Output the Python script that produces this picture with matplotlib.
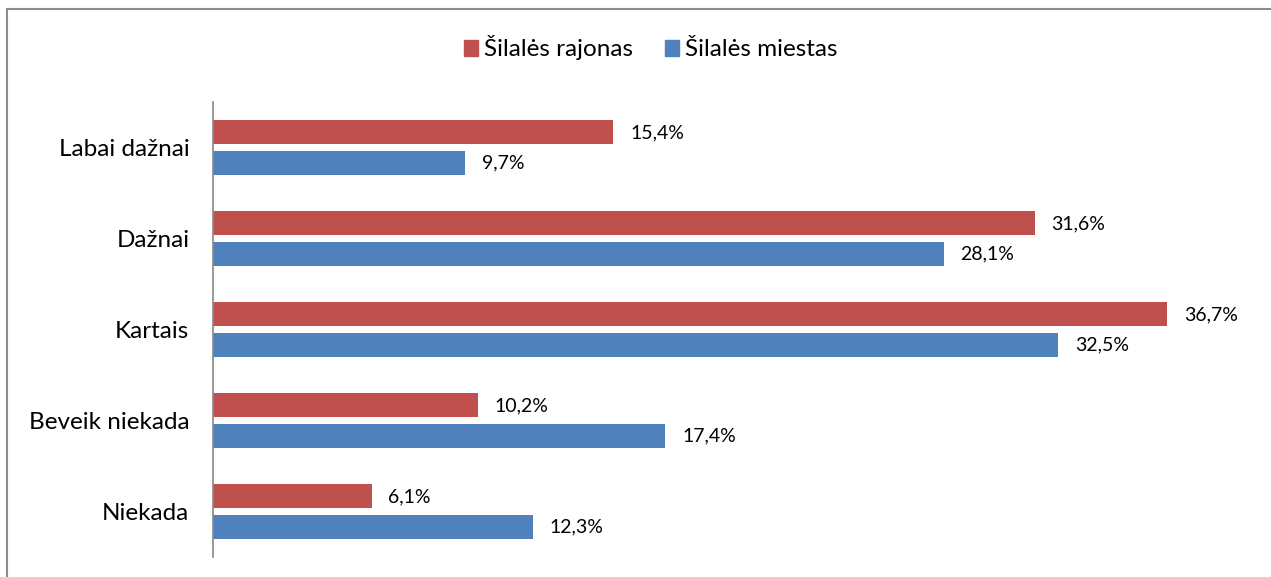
import matplotlib.pyplot as plt
import matplotlib.patches as mpatches
import numpy as np

categories = ["Labai dažnai", "Dažnai", "Kartais", "Beveik niekada", "Niekada"]
series_names = ["Šilalės rajonas", "Šilalės miestas"]
rajonas = [15.4, 31.6, 36.7, 10.2, 6.1]
miestas = [9.7, 28.1, 32.5, 17.4, 12.3]

red = "#C0504D"
blue = "#4F81BD"

plt.rcParams['font.family'] = ['Lato', 'DejaVu Sans']

fig = plt.figure(figsize=(12.71, 5.77), dpi=100)
ax = fig.add_axes([213 / 1271, 1 - 557 / 577, (1253 - 213) / 1271, (557 - 102) / 577])

y = np.arange(len(categories))
h = 0.264
off = 0.166

ax.barh(y - off, rajonas, height=h, color=red, label=series_names[0])
ax.barh(y + off, miestas, height=h, color=blue, label=series_names[1])

for yi, v in zip(y, rajonas):
    ax.annotate(f"{v:.1f}%".replace(".", ","), (v, yi - off), xytext=(12, 0),
                textcoords="offset points", va="center", ha="left", fontsize=14)
for yi, v in zip(y, miestas):
    ax.annotate(f"{v:.1f}%".replace(".", ","), (v, yi + off), xytext=(12, 0),
                textcoords="offset points", va="center", ha="left", fontsize=14)

ax.set_xlim(0, 40)
ax.set_ylim(len(categories) - 0.5, -0.5)
ax.set_yticks(y)
ax.set_yticklabels(categories, fontsize=17.5)
ax.tick_params(axis="y", length=0, pad=17)
ax.set_xticks([])
for s in ["top", "right", "bottom"]:
    ax.spines[s].set_visible(False)
ax.spines["left"].set_color("#888888")
ax.spines["left"].set_linewidth(1.2)

handles = [mpatches.Patch(color=red, label=series_names[0]),
           mpatches.Patch(color=blue, label=series_names[1])]
fig.legend(handles=handles, loc="center", bbox_to_anchor=(0.512, 1 - 48 / 577), ncol=2,
           frameon=False, fontsize=17.5, handlelength=0.6, handleheight=0.6,
           handletextpad=0.25, columnspacing=1.3)

# outer chart border
fig.patches.append(mpatches.Rectangle((7 / 1271, -0.01), 1.02, 1 - 9 / 577 + 0.01,
                                      transform=fig.transFigure, fill=False,
                                      edgecolor="#8c8c8c", linewidth=1.5))

fig.savefig("out.png", dpi=100)
